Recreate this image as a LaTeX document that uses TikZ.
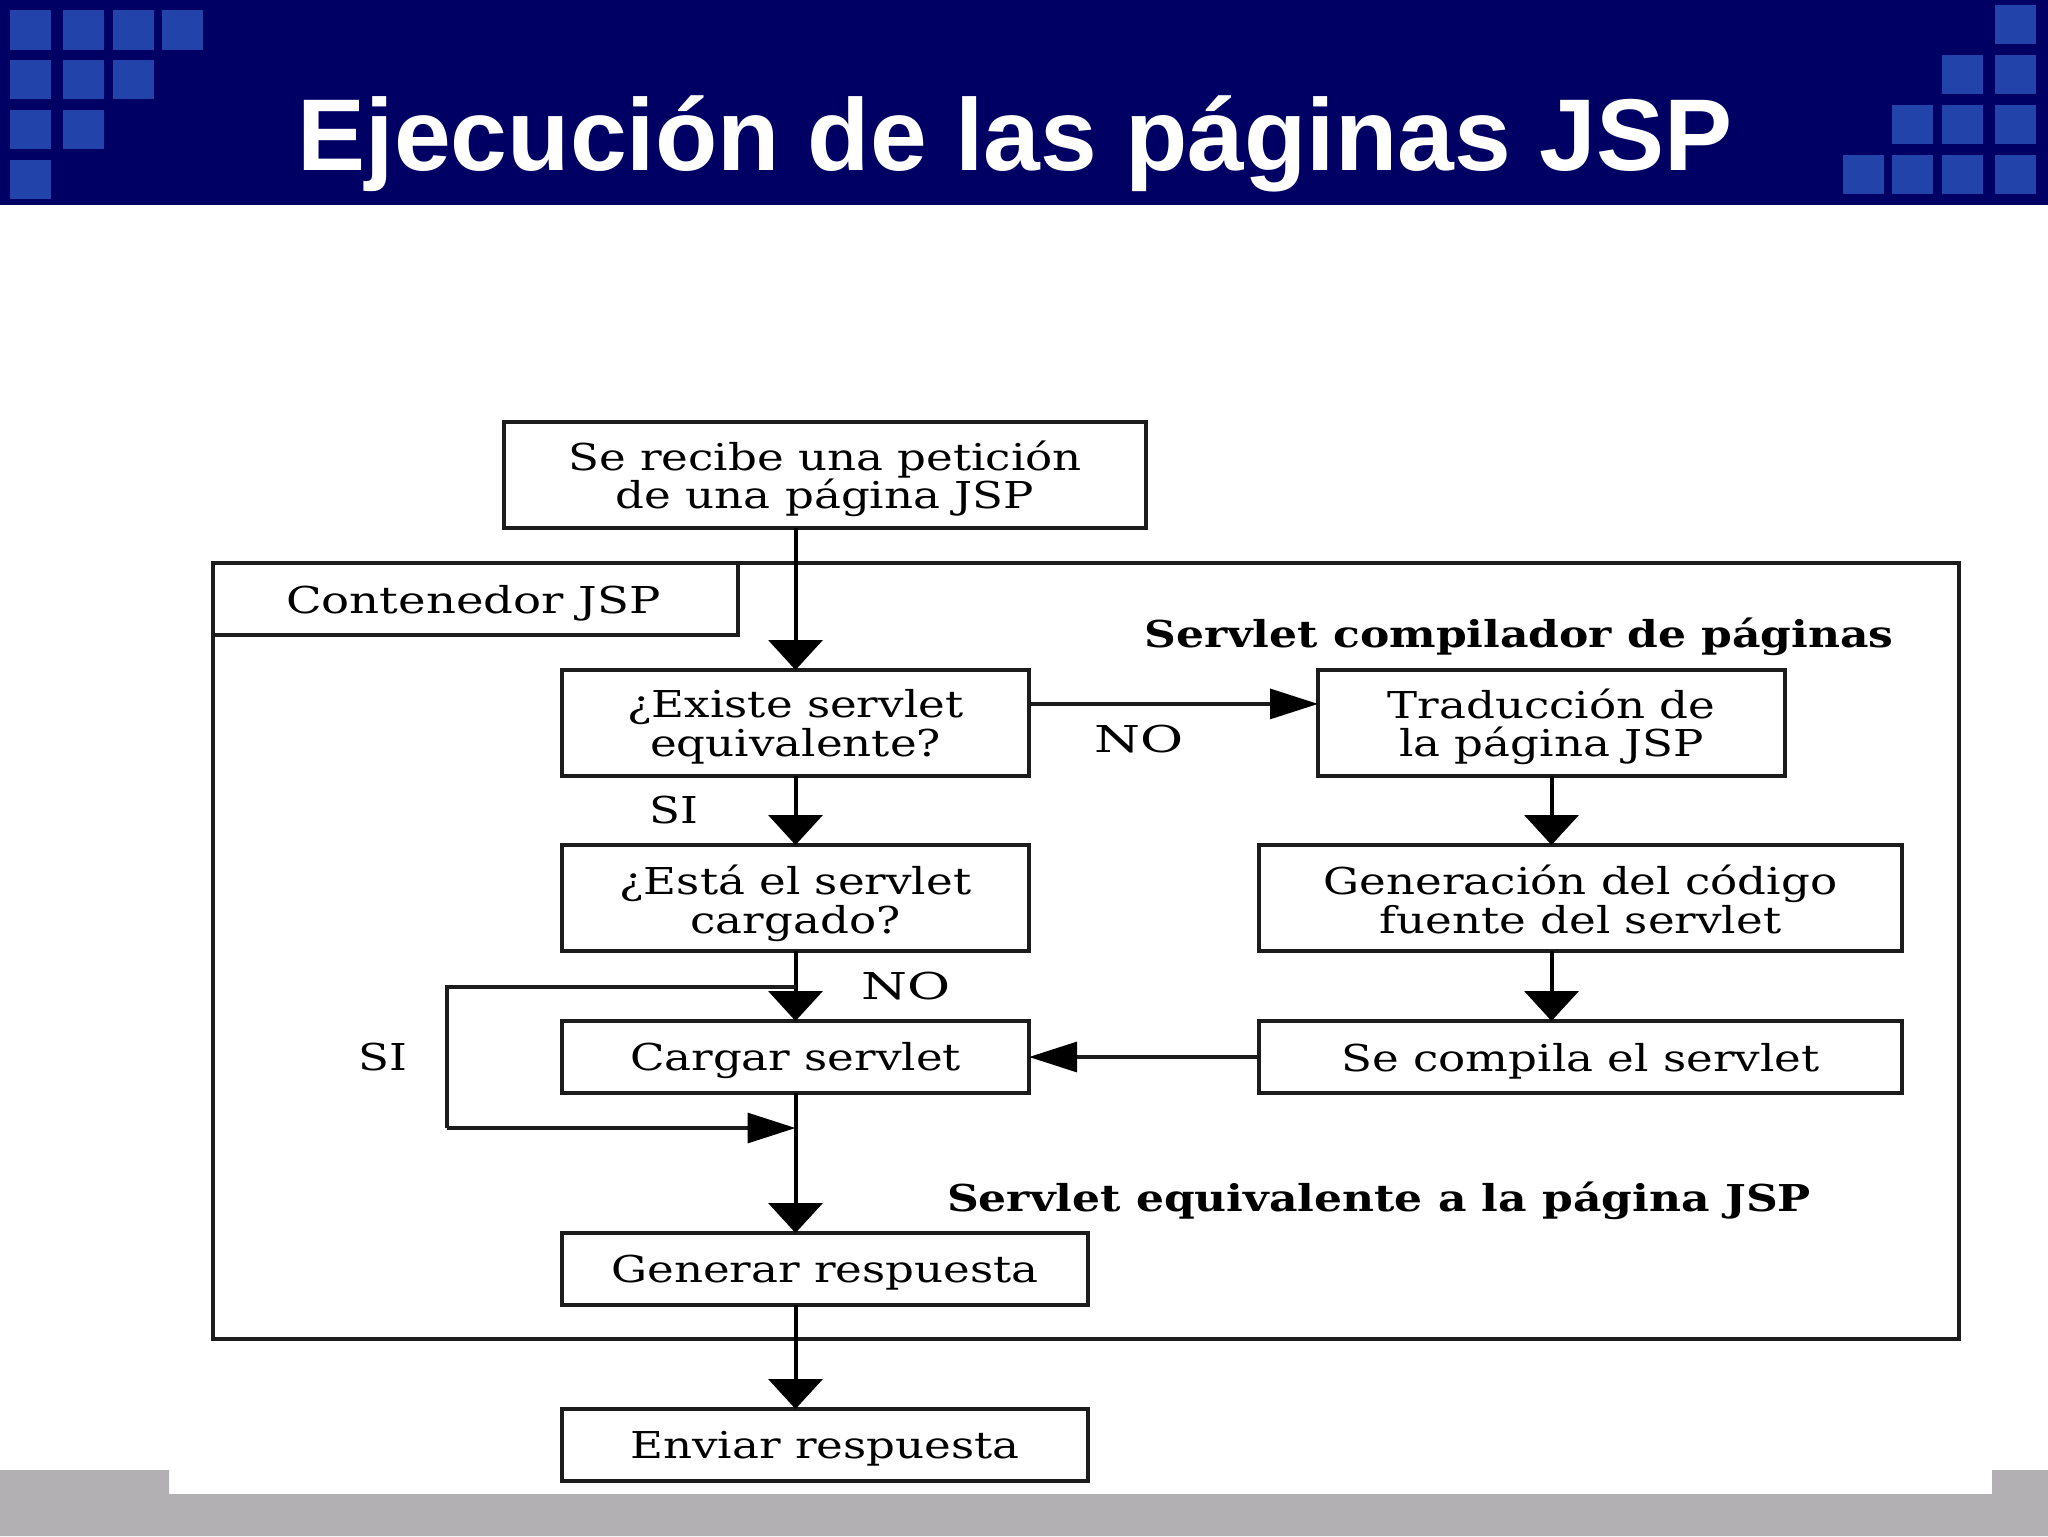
\documentclass[tikz,border=0pt]{standalone}
\usepackage{fontspec}
\setmainfont[FakeStretch=1.22,BoldFeatures={FakeStretch=1.19}]{DejaVu Serif}
\newfontfamily\titlefont{Liberation Sans}
\newfontfamily\widefont[FakeStretch=1.42]{DejaVu Serif}
\newfontfamily\midfont[FakeStretch=1.26]{DejaVu Serif}
\usetikzlibrary{arrows.meta,calc}
\definecolor{navy}{HTML}{000064}
\definecolor{tile}{HTML}{2244AA}
\definecolor{foot}{HTML}{B2B0B2}
\definecolor{ink}{HTML}{1C1C1C}
\tikzset{
  x=0.5pt,y=-0.5pt,
  tilebox/.style={fill=tile,draw=none},
  flowbox/.style={draw=ink,line width=1.6pt,outer sep=0pt,inner sep=0pt},
  flowtext/.style={inner sep=0pt,align=center,yshift=-2pt,font=\fontsize{18.5}{19.3}\selectfont},
  plain/.style={inner sep=0pt,font=\fontsize{18.5}{19.3}\selectfont},
  widelabel/.style={inner sep=0pt,font=\widefont\fontsize{18.5}{19.3}\selectfont},
  heavy/.style={inner sep=0pt,font=\fontsize{18.5}{19.3}\selectfont\bfseries},
  vflow/.style={line width=2pt,draw=black,-{Triangle[length=15pt,width=27pt,fill=black,color=black]}},
  hflow/.style={line width=1.6pt,draw=ink,-{Triangle[length=24pt,width=15pt,fill=black,color=black]}},
  loopline/.style={line width=1.6pt,draw=ink,line join=miter},
}
\begin{document}
\begin{tikzpicture}
\useasboundingbox (0,0) rectangle (2048,1536);
\fill[white] (0,0) rectangle (2048,1536);
% header
\fill[navy] (0,0) rectangle (2048,205);
\foreach \xa/\xb/\ya/\yb in {10/51/10/50,63/104/10/50,113/154/10/50,162/203/10/50,
  10/51/60/99,63/104/60/99,113/154/60/99,
  10/51/110/149,63/104/110/149,
  10/51/160/199,
  1995/2036/5/44,
  1942/1983/55/94,1995/2036/55/94,
  1892/1933/105/144,1942/1983/105/144,1995/2036/105/144,
  1843/1884/155/194,1892/1933/155/194,1942/1983/155/194,1995/2036/155/194}
  \fill[tilebox] (\xa,\yb) rectangle (\xb,\ya);
\node[text=white,inner sep=0pt,anchor=base,font=\titlefont\bfseries\fontsize{51}{60}\selectfont] (title) at (1015,170) {Ejecución de las páginas JSP};
% footer
\fill[foot] (0,1536) -- (0,1470) -- (169,1470) -- (169,1494) -- (1992,1494) -- (1992,1470) -- (2048,1470) -- (2048,1536) -- cycle;
% boxes
\node[flowbox,minimum width=873pt,minimum height=388pt] (container) at (1086,951) {};
\node[flowbox,minimum width=262.5pt,minimum height=36pt,label={[flowtext,xshift=-1pt]center:{\midfont Contenedor JSP}}] (label) at (475.5,599) {};
\node[flowbox,minimum width=321pt,minimum height=53pt,label={[flowtext]center:{Se recibe una petición\\de una página JSP}}] (recibe) at (825,475) {};
\node[flowbox,minimum width=233.5pt,minimum height=53pt,label={[flowtext]center:{¿Existe servlet\\equivalente?}}] (existe) at (795.5,723) {};
\node[flowbox,minimum width=233.5pt,minimum height=53pt,label={[flowtext]center:{Traducción de\\la página JSP}}] (trad) at (1551.5,723) {};
\node[flowbox,minimum width=233.5pt,minimum height=53pt,label={[flowtext,yshift=-0.6pt]center:{¿Está el servlet\\cargado?}}] (esta) at (795.5,898) {};
\node[flowbox,minimum width=321.5pt,minimum height=53pt,label={[flowtext,yshift=1.4pt]center:{Generación del código\\fuente del servlet}}] (gen) at (1580.5,898) {};
\node[flowbox,minimum width=233.5pt,minimum height=36pt,label={[flowtext]center:Cargar servlet}] (cargar) at (795.5,1057) {};
\node[flowbox,minimum width=321.5pt,minimum height=36pt,label={[flowtext]center:Se compila el servlet}] (compila) at (1580.5,1057) {};
\node[flowbox,minimum width=263pt,minimum height=36pt,label={[flowtext]center:Generar respuesta}] (generar) at (825,1269) {};
\node[flowbox,minimum width=263pt,minimum height=36pt,label={[flowtext]center:Enviar respuesta}] (enviar) at (825,1445) {};
% labels
\node[heavy] (lblc) at (1519,637) {Servlet compilador de páginas};
\node[heavy] (lble) at (1379,1201) {Servlet equivalente a la página JSP};
\node[widelabel] (no1) at (1139,739) {NO};
\node[plain] (si1) at (674,810) {SI};
\node[widelabel] (no2) at (906,986) {NO};
\node[plain] (si2) at (383,1057) {SI};
% connectors
\coordinate (la) at (795.5,987);
\coordinate (lb) at (447,987);
\coordinate (lc) at (447,1128);
\coordinate (ld) at (795.5,1128);
\draw[vflow] (existe.north |- recibe.south) -- (existe.north);
\draw[vflow] (existe.south) -- (esta.north);
\draw[vflow] (esta.south) -- (cargar.north);
\draw[vflow] (cargar.south) -- (cargar.south |- generar.north);
\draw[vflow] (cargar.south |- generar.south) -- (cargar.south |- enviar.north);
\draw[vflow] (trad.south) -- (trad.south |- gen.north);
\draw[vflow] (trad.south |- gen.south) -- (trad.south |- compila.north);
\draw[hflow] ($(existe.north east)!0.32!(existe.south east)$) -- ($(trad.north west)!0.32!(trad.south west)$);
\draw[hflow] (compila.west) -- (cargar.east);
\draw[loopline] (la) -- (lb) -- (lc);
\draw[hflow] (lc) -- (ld);
\end{tikzpicture}
\end{document}
